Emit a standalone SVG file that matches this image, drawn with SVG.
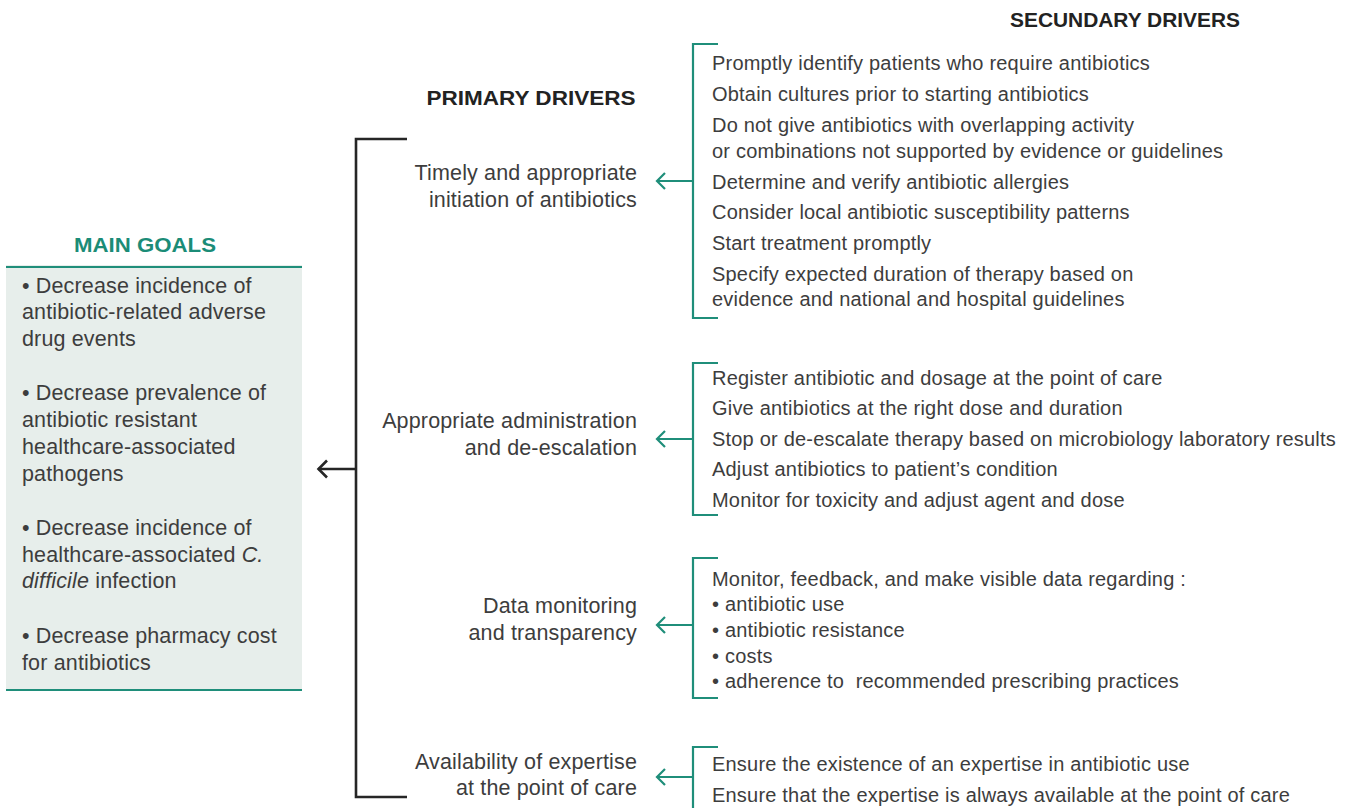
<svg xmlns="http://www.w3.org/2000/svg" width="1354" height="808" viewBox="0 0 1354 808">
  <style>
    .head { font-family: "Liberation Sans", Arial, sans-serif; font-weight: bold; font-size: 20px; fill: #222; }
    .goalhead { font-family: "Liberation Sans", Arial, sans-serif; font-weight: bold; font-size: 20px; fill: #1b8c77; }
    .goal { font-family: "Liberation Sans", Arial, sans-serif; font-size: 21.5px; fill: #3d3d3d; letter-spacing: 0.15px; }
    .prim { font-family: "Liberation Sans", Arial, sans-serif; font-size: 21.5px; fill: #3d3d3d; text-anchor: end; letter-spacing: 0.15px; }
    .sec { font-family: "Liberation Sans", Arial, sans-serif; font-size: 20px; fill: #3d3d3d; letter-spacing: 0.2px; }
    .teal { fill: none; stroke: #1f8e7a; stroke-width: 2.2; }
    .dark { fill: none; stroke: #262626; stroke-width: 2.6; }
  </style>

  <rect width="1354" height="808" fill="#ffffff"/>

  <!-- column headings -->
  <text class="head" x="1125" y="27" text-anchor="middle" textLength="230" lengthAdjust="spacingAndGlyphs">SECUNDARY DRIVERS</text>
  <text class="head" x="531" y="105" text-anchor="middle" textLength="209" lengthAdjust="spacingAndGlyphs">PRIMARY DRIVERS</text>

  <!-- main goals box -->
  <g id="main-goals">
    <text class="goalhead" x="145" y="252" text-anchor="middle" textLength="142" lengthAdjust="spacingAndGlyphs">MAIN GOALS</text>
    <rect x="6" y="265" width="296" height="426" fill="#e7eeeb"/>
    <line x1="6" y1="267" x2="302" y2="267" stroke="#1f8e7a" stroke-width="2"/>
    <line x1="6" y1="690" x2="302" y2="690" stroke="#1f8e7a" stroke-width="2"/>
    <text class="goal">
      <tspan x="22" y="293">• Decrease incidence of</tspan>
      <tspan x="22" y="319">antibiotic-related adverse</tspan>
      <tspan x="22" y="346">drug events</tspan>
      <tspan x="22" y="400">• Decrease prevalence of</tspan>
      <tspan x="22" y="427">antibiotic resistant</tspan>
      <tspan x="22" y="454">healthcare-associated</tspan>
      <tspan x="22" y="481">pathogens</tspan>
      <tspan x="22" y="535">• Decrease incidence of</tspan>
      <tspan x="22" y="562">healthcare-associated <tspan font-style="italic">C.</tspan></tspan>
      <tspan x="22" y="588"><tspan font-style="italic">difficile</tspan> infection</tspan>
      <tspan x="22" y="643">• Decrease pharmacy cost</tspan>
      <tspan x="22" y="670">for antibiotics</tspan>
    </text>
  </g>

  <!-- primary drivers -->
  <g id="primary-1">
    <text class="prim"><tspan x="637" y="180">Timely and appropriate</tspan><tspan x="637" y="207">initiation of antibiotics</tspan></text>
  </g>
  <g id="primary-2">
    <text class="prim"><tspan x="637" y="428">Appropriate administration</tspan><tspan x="637" y="455">and de-escalation</tspan></text>
  </g>
  <g id="primary-3">
    <text class="prim"><tspan x="637" y="613">Data monitoring</tspan><tspan x="637" y="640">and transparency</tspan></text>
  </g>
  <g id="primary-4">
    <text class="prim"><tspan x="637" y="769">Availability of expertise</tspan><tspan x="637" y="795">at the point of care</tspan></text>
  </g>

  <!-- secondary drivers -->
  <g id="secondary-1">
    <text class="sec">
      <tspan x="712" y="70">Promptly identify patients who require antibiotics</tspan>
      <tspan x="712" y="101">Obtain cultures prior to starting antibiotics</tspan>
      <tspan x="712" y="132">Do not give antibiotics with overlapping activity</tspan>
      <tspan x="712" y="158">or combinations not supported by evidence or guidelines</tspan>
      <tspan x="712" y="189">Determine and verify antibiotic allergies</tspan>
      <tspan x="712" y="219">Consider local antibiotic susceptibility patterns</tspan>
      <tspan x="712" y="250">Start treatment promptly</tspan>
      <tspan x="712" y="281">Specify expected duration of therapy based on</tspan>
      <tspan x="712" y="306">evidence and national and hospital guidelines</tspan>
    </text>
  </g>
  <g id="secondary-2">
    <text class="sec">
      <tspan x="712" y="385">Register antibiotic and dosage at the point of care</tspan>
      <tspan x="712" y="415">Give antibiotics at the right dose and duration</tspan>
      <tspan x="712" y="446">Stop or de-escalate therapy based on microbiology laboratory results</tspan>
      <tspan x="712" y="476">Adjust antibiotics to patient’s condition</tspan>
      <tspan x="712" y="507">Monitor for toxicity and adjust agent and dose</tspan>
    </text>
  </g>
  <g id="secondary-3">
    <text class="sec">
      <tspan x="712" y="586">Monitor, feedback, and make visible data regarding :</tspan>
      <tspan x="712" y="611">• antibiotic use</tspan>
      <tspan x="712" y="637">• antibiotic resistance</tspan>
      <tspan x="712" y="663">• costs</tspan>
      <tspan x="712" y="688">• adherence to&#160; recommended prescribing practices</tspan>
    </text>
  </g>
  <g id="secondary-4">
    <text class="sec">
      <tspan x="712" y="771">Ensure the existence of an expertise in antibiotic use</tspan>
      <tspan x="712" y="802">Ensure that the expertise is always available at the point of care</tspan>
    </text>
  </g>

  <!-- connectors: brackets and arrows -->
  <g id="connectors">
    <!-- primary drivers to main goals -->
    <path class="dark" d="M407 139 H356 V797 H407"/>
    <path class="dark" d="M356 469 H318"/>
    <path class="dark" d="M327 460.5 L318.5 469 L327 477.5" stroke-width="2.2"/>

    <!-- secondary drivers to primary drivers -->
    <path class="teal" d="M718 44 H693 V318 H718"/>
    <path class="teal" d="M693 181 H657"/>
    <path class="teal" d="M665 173 L657 181 L665 189"/>

    <path class="teal" d="M718 363 H693 V515 H718"/>
    <path class="teal" d="M693 439 H657"/>
    <path class="teal" d="M665 431 L657 439 L665 447"/>

    <path class="teal" d="M718 558 H693 V698 H718"/>
    <path class="teal" d="M693 625 H657"/>
    <path class="teal" d="M665 617 L657 625 L665 633"/>

    <path class="teal" d="M718 747 H693 V810"/>
    <path class="teal" d="M693 777 H657"/>
    <path class="teal" d="M665 769 L657 777 L665 785"/>
  </g>
</svg>
